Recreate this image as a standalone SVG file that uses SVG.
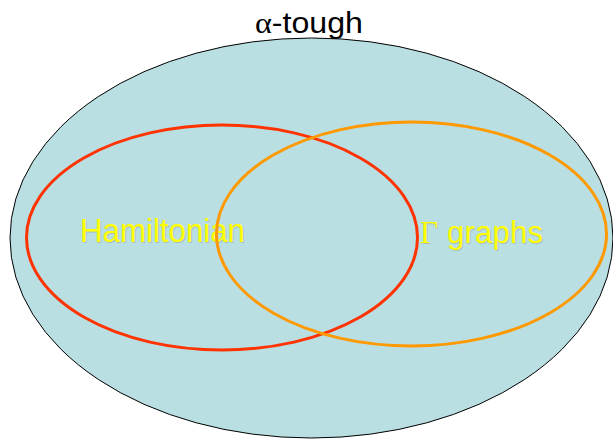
<svg xmlns="http://www.w3.org/2000/svg" width="613" height="440" viewBox="0 0 613 440">
<defs>
<style>
.lbl{font-family:"Liberation Sans",Arial,sans-serif;fill:#FFFF00}
.sh{font-family:"Liberation Sans",Arial,sans-serif;fill:#9aa8a8;opacity:0.6}
.ell{fill:none;stroke-width:3}
</style>
</defs>
<rect width="613" height="440" fill="#ffffff"/>
<g id="alpha-tough">
<ellipse cx="311.5" cy="238" rx="301.5" ry="200" fill="#B9DFE2" stroke="#000000" stroke-width="1"/>
<text x="255" y="33" font-family="'Liberation Sans',Arial,sans-serif" font-size="30" fill="#000000" textLength="108" lengthAdjust="spacingAndGlyphs"><tspan font-family="'Liberation Serif','Times New Roman',serif">α</tspan>-tough</text>
</g>
<g id="hamiltonian">
<text class="sh" x="81" y="243" font-size="33" textLength="165" lengthAdjust="spacingAndGlyphs">Hamiltonian</text>
<text class="lbl" x="80" y="242" font-size="33" textLength="165" lengthAdjust="spacingAndGlyphs">Hamiltonian</text>
<ellipse class="ell" cx="222" cy="237.5" rx="195.5" ry="112.5" stroke="#FF3300"/>
</g>
<g id="gamma-graphs">
<text class="sh" x="421" y="244" font-size="31" textLength="123"><tspan font-family="'Liberation Serif','Times New Roman',serif">Γ</tspan> graphs</text>
<text class="lbl" x="420" y="243" font-size="31" textLength="123"><tspan font-family="'Liberation Serif','Times New Roman',serif">Γ</tspan> graphs</text>
<ellipse class="ell" cx="411.5" cy="234" rx="195" ry="112" stroke="#FF9900"/>
</g>
</svg>
